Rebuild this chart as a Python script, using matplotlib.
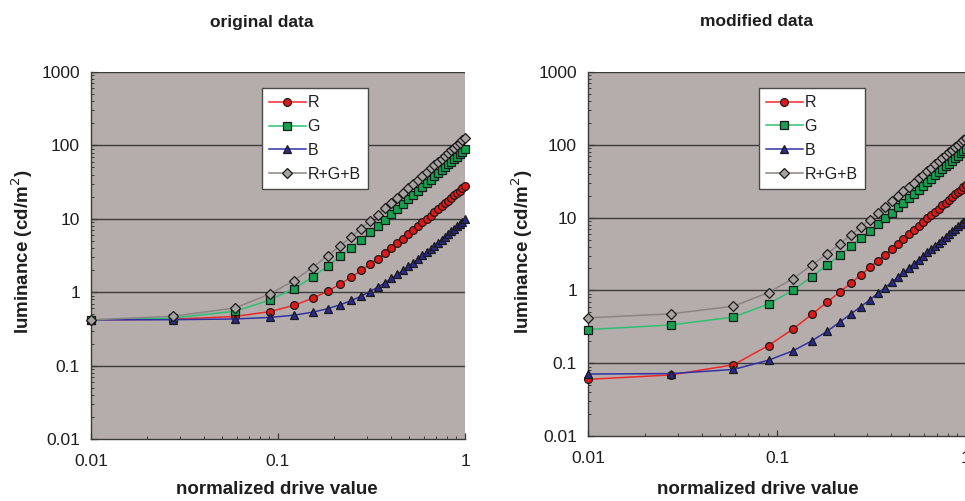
import matplotlib
matplotlib.use("Agg")
import matplotlib.pyplot as plt
from matplotlib.ticker import FixedLocator, FixedFormatter, LogLocator, NullFormatter

plt.rcParams["font.family"] = ["Liberation Sans", "DejaVu Sans"]

# 8-bit drive codes of the measured steps (code 0 is plotted at 0.01 on the log axis)
drive_codes = [0, 7, 15, 23, 31, 39, 47, 55, 63, 71, 79, 87, 95, 103, 111, 119, 127,
               135, 143, 151, 159, 167, 175, 183, 191, 199, 207, 215, 223, 231, 239, 247, 255]
drive_floor = 0.01

# luminance in cd/m^2, original measurements
orig_r = [0.42, 0.428, 0.467, 0.543, 0.661, 0.824, 1.035, 1.295, 1.608, 1.976, 2.396, 2.876,
          3.412, 4.011, 4.668, 5.385, 6.172, 7.016, 7.93, 8.907, 9.956, 11.07, 12.25, 13.50,
          14.83, 16.22, 17.68, 19.22, 20.84, 22.52, 24.28, 26.12, 28.02]
orig_g = [0.42, 0.445, 0.55, 0.78, 1.12, 1.60, 2.27, 3.07, 4.05, 5.2, 6.53, 8.05, 9.75, 11.65,
          13.75, 16.0, 18.5, 21.2, 24.1, 27.2, 30.55, 34.1, 37.85, 41.8, 46.05, 50.5, 55.1,
          60.0, 65.15, 70.5, 76.1, 81.95, 88.0]
orig_b = [0.42, 0.422, 0.432, 0.453, 0.486, 0.534, 0.597, 0.675, 0.772, 0.886, 1.019, 1.171,
          1.343, 1.537, 1.751, 1.988, 2.247, 2.528, 2.835, 3.163, 3.518, 3.897, 4.299, 4.730,
          5.187, 5.667, 6.177, 6.714, 7.280, 7.871, 8.495, 9.144, 9.82]
orig_rgb = [0.42, 0.47, 0.61, 0.94, 1.44, 2.17, 3.15, 4.3, 5.7, 7.35, 9.25, 11.4, 13.85, 16.55,
            19.5, 22.8, 26.3, 30.2, 34.3, 38.8, 43.5, 48.6, 54.0, 59.6, 65.6, 72.0, 78.6,
            85.6, 92.9, 100.5, 108.5, 116.8, 125.5]

# luminance in cd/m^2, modified data
mod_r = [0.060, 0.069, 0.095, 0.175, 0.295, 0.47, 0.69, 0.955, 1.27, 1.64, 2.07, 2.55, 3.095,
         3.70, 4.37, 5.10, 5.90, 6.75, 7.68, 8.67, 9.73, 10.87, 12.06, 13.33, 14.68, 16.09,
         17.57, 19.13, 20.77, 22.48, 24.27, 26.13, 28.06]
mod_g = [0.29, 0.335, 0.43, 0.65, 1.01, 1.55, 2.22, 3.07, 4.07, 5.23, 6.57, 8.09, 9.80, 11.70,
         13.79, 16.07, 18.57, 21.25, 24.15, 27.26, 30.59, 34.13, 37.88, 41.85, 46.08, 50.50,
         55.13, 60.01, 65.16, 70.5, 76.1, 81.94, 87.99]
mod_b = [0.071, 0.072, 0.082, 0.11, 0.148, 0.203, 0.275, 0.37, 0.48, 0.60, 0.744, 0.907, 1.09,
         1.294, 1.518, 1.762, 2.03, 2.318, 2.629, 2.962, 3.319, 3.698, 4.10, 4.526, 4.979,
         5.453, 5.949, 6.472, 7.024, 7.597, 8.197, 8.822, 9.47]
mod_rgb = [0.42, 0.476, 0.607, 0.935, 1.453, 2.223, 3.185, 4.395, 5.82, 7.47, 9.38, 11.55,
           13.99, 16.69, 19.68, 22.93, 26.50, 30.32, 34.46, 38.89, 43.64, 48.70, 54.04, 59.71,
           65.74, 72.04, 78.65, 85.61, 92.95, 100.58, 108.57, 116.89, 125.52]

series_names = ["R", "G", "B", "R+G+B"]
panel_titles = ["original data", "modified data"]
x_ticks = [0.01, 0.1, 1]
x_tick_labels = ["0.01", "0.1", "1"]
y_ticks = [0.01, 0.1, 1, 10, 100, 1000]
y_tick_labels = ["0.01", "0.1", "1", "10", "100", "1000"]

drive = [max(c / 255, drive_floor) for c in drive_codes]

styles = [
    dict(color="#f02828", marker="o", mfc="#e01818", ms=5.6),
    dict(color="#2ec070", marker="s", mfc="#16a050", ms=6.0),
    dict(color="#3232a8", marker="^", mfc="#2a2a90", ms=6.4),
    dict(color="#8a8482", marker="D", mfc="#a8a2a0", ms=5.0),
]

fig = plt.figure(figsize=(9.65, 5.01), dpi=100)
fig.patch.set_facecolor("white")

ax_rects = [
    [91 / 965, 62 / 501, 374 / 965, 367 / 501],
    [588 / 965, 65 / 501, 378 / 965, 364 / 501],
]
title_x = [262 / 965, 757 / 965]
ylabel_x = [22 / 965, 522 / 965]
xlabel_x = [277 / 965, 758 / 965]
legend_anchor = [(0.457, 0.956), (0.452, 0.956)]

panels = [
    [orig_r, orig_g, orig_b, orig_rgb],
    [mod_r, mod_g, mod_b, mod_rgb],
]

text_col = "#1e1e1e"

for i, data in enumerate(panels):
    ax = fig.add_axes(ax_rects[i])
    ax.set_facecolor("#b4adab")
    ax.set_xscale("log")
    ax.set_yscale("log")
    ax.set_xlim(0.01, 1)
    ax.set_ylim(0.01, 1000)

    for y in y_ticks[1:]:
        ax.axhline(y, color="#3c3a3a", lw=1.0, zorder=1)

    for name, vals, st in zip(series_names, data, styles):
        ax.plot(drive, vals, color=st["color"], lw=1.1, marker=st["marker"],
                markersize=st["ms"], markerfacecolor=st["mfc"],
                markeredgecolor="#1a1a1a", markeredgewidth=0.9,
                label=name, zorder=3, clip_on=False)

    for side in ("top", "right"):
        ax.spines[side].set_visible(False)
    for side in ("left", "bottom"):
        ax.spines[side].set_color("#3a3a3a")
        ax.spines[side].set_linewidth(1.0)

    ax.xaxis.set_major_locator(FixedLocator(x_ticks))
    ax.xaxis.set_major_formatter(FixedFormatter(x_tick_labels))
    ax.yaxis.set_major_locator(FixedLocator(y_ticks))
    ax.yaxis.set_major_formatter(FixedFormatter(y_tick_labels))
    ax.xaxis.set_minor_locator(LogLocator(base=10, subs=range(2, 10)))
    ax.yaxis.set_minor_locator(LogLocator(base=10, subs=range(2, 10)))
    ax.xaxis.set_minor_formatter(NullFormatter())
    ax.yaxis.set_minor_formatter(NullFormatter())
    ax.tick_params(which="major", direction="in", length=4, width=0.9, color="#3a3a3a",
                   labelsize=12.5, labelcolor=text_col)
    ax.tick_params(which="minor", direction="in", length=2.5, width=0.7, color="#3a3a3a")
    ax.tick_params(axis="x", which="major", pad=11)
    ax.tick_params(axis="y", which="major", pad=8)

    leg = ax.legend(loc="upper left", bbox_to_anchor=legend_anchor[i], borderaxespad=0,
                    frameon=True, fancybox=False, framealpha=1, fontsize=11.5,
                    handlelength=2.3, handletextpad=0.1, labelspacing=0.55,
                    borderpad=0.45)
    leg.get_frame().set_edgecolor("#4a4a4a")
    leg.get_frame().set_linewidth(1.0)
    leg.set_zorder(5)
    for t in leg.get_texts():
        t.set_color(text_col)

    fig.text(title_x[i], 1 - 22 / 501, panel_titles[i], ha="center", va="center",
             fontsize=12.5, fontweight="bold", color=text_col)
    fig.text(ylabel_x[i], 1 - 252 / 501, "luminance (cd/m$^2$)", ha="center", va="center",
             rotation=90, fontsize=13.5, fontweight="bold", color=text_col)
    fig.text(xlabel_x[i], 1 - 490 / 501, "normalized drive value", ha="center", va="center",
             fontsize=13.5, fontweight="bold", color=text_col)

fig.savefig("out.png", dpi=100, facecolor="white")
